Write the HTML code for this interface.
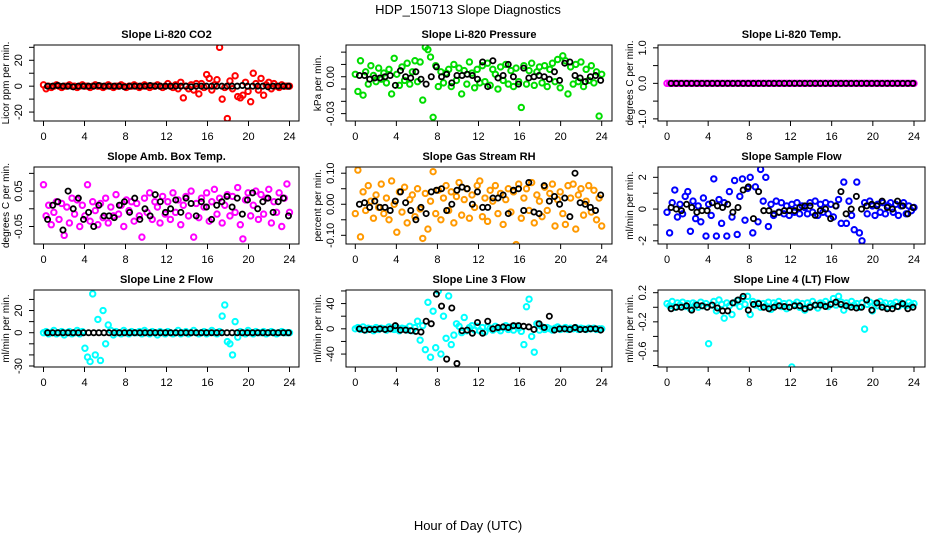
<!DOCTYPE html>
<html><head><meta charset="utf-8">
<style>
body{margin:0;background:#fff;}
svg text{font-family:"Liberation Sans",sans-serif;}
</style></head>
<body>
<svg id="chart" width="936" height="540" viewBox="0 0 936 540" xmlns="http://www.w3.org/2000/svg">
<rect width="936" height="540" fill="#fff"/>
<text x="468" y="14" text-anchor="middle" font-size="13">HDP_150713  Slope Diagnostics</text>
<text x="468" y="530" text-anchor="middle" font-size="13">Hour of Day (UTC)</text>
</svg>
<script>
const xTicks = [0,4,8,12,16,20,24];
const panelTitles = ["Slope Li-820 CO2","Slope Li-820 Pressure","Slope Li-820 Temp.","Slope Amb. Box Temp.","Slope Gas Stream RH","Slope Sample Flow","Slope Line 2 Flow","Slope Line 3 Flow","Slope Line 4 (LT) Flow"];
const yTitles = ["Licor ppm per min.","kPa per min.","degrees C per min.","degrees C per min.","percent per min.","ml/min per min.","ml/min per min.","ml/min per min.","ml/min per min."];
const yTickSets = [[-20,-10,0,10,20,30],[-0.03,-0.02,-0.01,0,0.01,0.02],[-1,-0.5,0,0.5,1],[-0.05,0,0.05,0.1],[-0.1,-0.05,0,0.05,0.1],[-2,-1,0,1,2],[-30,-20,-10,0,10,20,30],[-40,-20,0,20,40,60],[-0.8,-0.6,-0.4,-0.2,0,0.2]];
const yLabelSets = [["-20","0","20"],["-0.03","0.00"],["-1.0","0.0","1.0"],["-0.05","0.05"],["-0.10","0.00","0.10"],["-2","0","2"],["-30","0","20"],["-40","0","40"],["-0.6","-0.2","0.2"]];
const yLabelVals = [[-20,0,20],[-0.03,0],[-1,0,1],[-0.05,0.05],[-0.1,0,0.1],[-2,0,2],[-30,0,20],[-40,0,40],[-0.6,-0.2,0.2]];
const yDomains = [[-26.9,31.8],[-0.036,0.0258],[-1.06,1.08],[-0.0994,0.118],[-0.128,0.12],[-2.2,2.65],[-30.9,38.5],[-60.5,61.5],[-0.82,0.237]];
const seriesColors = ["#ff0000","#00dd00","#ff00ff","#ff00ff","#ff9900","#0000ff","#00ffff","#00ffff","#00ffff"];

const coloredValues = [
[1,-2,0,-1,0,1,0,-1,0,0,1,0, 0,-1,0,1,0,0,-1,0,1,0,0,-1, 0,1,0,-1,0,0,1,0,-1,0,0,1, 0,-1,0,1,0,-1,0,0,1,0,-1,0,
 2,0,-1,1,-2,3,-9,0,-2,1,-3,2, -6,2,-1,9,6,-3,1,5,30,-10,-1,-25, 4,-2,8,-8,-9,-7,3,-4,-12,10,2,-3, 6,-7,1,3,-2,2,0,-1,1,0,0,0],
[0.002,-0.012,0.013,-0.015,0.004,-0.006,0.009,0.001,-0.004,0.007,-0.002,0.003,
 -0.005,0.006,-0.014,0.015,0.002,-0.007,0.008,-0.003,0.011,-0.006,0.004,0.013,
 -0.004,0.012,-0.019,0.024,0.022,0.016,-0.033,0.009,-0.008,0.004,-0.005,0.003,
 0.006,-0.008,0.010,-0.003,0.007,-0.014,0.005,-0.006,0.012,0.003,-0.009,0.006,
 -0.005,0.009,-0.004,0.011,-0.007,0.006,0.002,-0.010,0.008,-0.003,0.010,-0.006,
 0.005,-0.008,0.007,-0.004,-0.025,0.009,-0.006,0.005,0.011,-0.007,0.004,0.008,
 -0.005,0.009,-0.008,0.006,0.011,-0.004,0.014,-0.009,0.017,0.013,-0.014,0.008,
 -0.006,0.010,-0.004,0.012,-0.008,0.006,-0.003,0.009,-0.005,0.004,-0.032,0.002],
[0,0,0,0,0,0,0,0,0,0,0,0, 0,0,0,0,0,0,0,0,0,0,0,0, 0,0,0,0,0,0,0,0,0,0,0,0, 0,0,0,0,0,0,0,0,0,0,0,0,
 0,0,0,0,0,0,0,0,0,0,0,0, 0,0,0,0,0,0,0,0,0,0,0,0, 0,0,0,0,0,0,0,0,0,0,0,0, 0,0,0,0,0,0,0,0,0,0,0,0],
[0.068,-0.02,0.01,-0.045,-0.01,0.02,-0.03,0.015,-0.075,0.005,-0.04,0.03,
 -0.015,0.025,-0.05,0.01,-0.02,0.068,-0.035,0.02,-0.005,-0.045,0.015,-0.025,
 0.03,-0.04,0.005,-0.02,0.04,-0.015,0.01,-0.05,0.025,-0.005,0.02,-0.035,
 0.015,-0.02,-0.08,0.03,-0.01,0.045,-0.03,0.02,0.005,-0.04,0.035,-0.015,
 0.02,-0.03,0.045,-0.01,0.025,-0.045,0.01,0.035,-0.02,0.05,-0.08,0.015,
 -0.025,0.03,0.005,0.045,-0.035,0.02,0.055,-0.015,0.03,-0.04,0.01,0.04,
 -0.02,0.035,-0.01,0.06,-0.045,-0.085,0.025,0.045,-0.02,0.01,0.05,-0.03,
 0.04,-0.015,0.03,0.055,-0.04,0.02,-0.01,0.045,-0.05,0.03,0.07,-0.01],
[-0.03,0.11,-0.105,0.04,-0.02,0.06,0.01,-0.045,0.03,-0.01,0.065,-0.03,
 0.02,-0.05,0.075,0.0,-0.09,0.04,-0.025,0.055,-0.06,0.015,0.03,-0.04,
 0.05,-0.015,-0.11,0.035,-0.08,0.01,0.105,-0.03,0.045,-0.05,0.02,0.06,
 -0.02,0.04,-0.06,0.025,0.07,-0.035,0.015,0.05,-0.045,0.03,-0.01,0.06,
 0.075,-0.04,0.02,-0.055,0.045,0.01,0.06,-0.03,0.035,-0.065,0.015,0.05,
 -0.025,0.04,-0.13,0.065,-0.045,0.02,0.05,-0.02,0.07,-0.06,0.03,0.01,
 -0.04,0.055,-0.02,0.035,0.065,-0.07,0.015,0.04,-0.03,-0.065,0.06,0.02,
 0.065,-0.08,0.03,0.05,-0.035,0.01,0.06,-0.025,0.045,-0.05,0.02,-0.07],
[-0.2,-1.5,0.4,1.2,-0.5,0.3,-0.3,0.8,1.1,-1.4,0.5,-0.6,
 0.2,-0.8,0.7,-1.7,0.3,-0.4,1.9,-1.7,0.6,-0.9,0.4,-1.7,
 1.1,-0.5,1.8,-1.6,0.8,1.9,-0.7,1.3,2.0,-1.5,1.4,-0.8,
 2.5,0.5,2.0,-1.1,0.3,-0.4,0.5,-0.2,0.4,-0.3,0.2,-0.4,
 0.3,-0.2,0.4,-0.3,0.2,0.1,-0.3,0.4,-0.2,0.5,-0.4,0.3,
 -0.2,0.4,-0.3,0.3,-0.5,0.2,0.6,-0.9,1.7,-0.9,0.5,-0.4,
 -1.3,1.7,-1.5,-2.0,0.4,-0.3,0.5,0.2,-0.4,0.3,-0.2,0.4,
 -0.3,0.2,0.4,-0.2,0.3,-0.4,0.2,0.4,-0.3,0.2,-0.1,0.1],
[0,1,-1,0,2,-1,0,1,-2,0,1,-1, 0,2,-1,1,-14,-22,-26,35,-20,12,-25,20, -10,7,2,-2,1,0,-1,2,0,-1,1,0, 0,1,-1,2,0,-1,1,0,-2,1,0,-1,
 1,0,-1,0,2,-1,0,1,-1,0,2,0, -1,0,1,-1,0,2,0,-1,1,15,25,-8, -10,-20,10,-4,1,0,-1,2,0,-1,1,0, 0,1,-1,0,1,0,-1,0,1,0,0,0],
[0,2,-1,3,-2,1,0,-3,2,-1,1,0, -2,3,0,-1,2,-3,1,0,-2,4,-3,2, 12,-18,5,-33,42,-45,28,-30,60,-40,20,-15, 52,-25,-10,8,4,-6,18,-3,2,5,-2,4,
 -3,2,-5,3,1,-2,4,0,-3,2,5,-1, 3,-2,4,1,-4,-25,35,47,-12,-37,8,-2, 3,-1,2,0,-2,1,3,-1,0,2,-1,1, 0,2,-1,1,0,-1,1,0,1,-1,0,0],
[0.05,0.02,0.08,0.0,0.06,0.03,0.07,0.01,0.05,-0.02,0.06,0.04,
 0.0,0.07,0.02,0.05,-0.5,0.03,0.08,-0.05,0.10,0.04,-0.15,0.06,
 0.02,-0.1,0.06,0.09,0.01,0.12,0.04,0.15,-0.1,0.08,0.03,0.06,
 0.0,0.05,0.02,0.07,-0.03,0.06,0.03,0.08,0.01,0.05,-0.02,0.06,
 -0.82,0.04,0.07,0.0,0.05,-0.04,0.06,0.02,0.08,0.03,-0.01,0.06,
 0.04,0.08,0.01,0.05,0.12,0.03,0.15,0.07,-0.04,0.06,0.02,0.08,
 0.03,0.05,0.0,0.06,-0.3,0.04,0.07,-0.05,0.05,0.02,0.08,0.03,
 0.06,0.0,0.05,0.03,0.07,0.01,0.06,0.04,0.02,0.07,0.03,0.05]
];

const blackValues = [
[0,0,0.5,0,0,-0.5,0,0,0,0,0.5,0, 0,0,0,-0.5,0,0,0,0,0.5,0,0,0, 0,0,0,0,-0.5,0,0,0,0,0,0,0, 0,0,0.5,0,0,0,0,-0.5,0,0,0,0],
[0.001,0.001,-0.002,-0.001,-0.001,0.000,0.001,-0.007,0.005,0.000,-0.001,0.004,
 -0.002,-0.006,0.000,0.008,0.000,0.002,-0.005,0.001,0.001,0.002,0.001,-0.002,
 0.012,-0.008,0.013,-0.001,0.001,0.010,0.000,-0.006,0.007,-0.001,0.000,0.001,
 0.000,-0.002,0.004,-0.003,0.011,0.012,0.001,-0.001,-0.004,0.000,0.001,-0.003],
[0,0,0,0,0,0,0,0,0,0,0,0, 0,0,0,0,0,0,0,0,0,0,0,0, 0,0,0,0,0,0,0,0,0,0,0,0, 0,0,0,0,0,0,0,0,0,0,0,0],
[-0.03,0.01,0.02,-0.06,0.05,0.0,0.03,-0.03,-0.01,-0.05,0.01,-0.02,
 -0.02,-0.025,0.01,0.02,-0.01,0.03,-0.03,0.0,-0.02,0.04,0.02,-0.01,
 0.0,0.025,-0.01,0.03,0.015,-0.02,0.02,0.005,-0.03,0.01,0.02,0.035,
 0.005,0.03,-0.015,0.025,0.045,0.0,0.02,0.03,-0.01,0.02,0.03,-0.02],
[0.0,0.005,-0.01,0.01,-0.01,-0.01,-0.02,0.01,0.04,0.005,-0.02,-0.05,
 -0.01,-0.03,0.04,0.045,0.05,-0.02,0.0,0.045,0.055,0.05,0.0,0.04,
 -0.01,-0.01,0.02,0.02,0.03,-0.03,0.045,0.05,-0.02,0.07,-0.025,-0.03,
 0.06,0.01,0.025,0.0,0.02,-0.04,0.1,0.005,0.0,-0.01,-0.02,0.03],
[0.1,0.0,-0.1,0.3,0.1,-0.2,-0.1,-0.1,0.4,0.2,0.1,0.3,
 -0.2,0.1,1.2,1.4,-0.6,1.1,-0.1,-0.1,-0.3,-0.2,-0.1,-0.1,
 -0.1,0.1,0.2,0.2,-0.4,-0.1,0.0,-0.6,0.2,1.1,-0.3,0.0,
 0.8,0.0,0.2,0.3,0.2,0.5,0.1,0.0,0.5,0.2,-0.3,0.1],
[0,0,0,0,0,0,0,0,0,0,0,0, 0,0,0,0,0,0,0,0,0,0,0,0, 0,0,0,0,0,0,0,0,0,0,0,0, 0,0,0,0,0,0,0,0,0,0,0,0],
[0,-2,-1,-1,0,-1,0,5,-2,-2,-3,-4,
 -5,12,8,55,36,-48,33,-55,-3,-2,-7,10,
 -7,12,0,2,3,2,5,5,4,3,-1,8,
 2,20,-2,0,0,-1,2,-1,-1,0,0,-2],
[-0.02,0.0,0.0,0.02,-0.04,0.03,0.02,0.0,0.03,-0.01,-0.05,-0.05,
 0.06,0.1,0.15,-0.04,0.04,0.05,0.0,-0.02,0.0,0.02,0.01,0.0,
 0.02,0.02,-0.02,0.0,0.03,0.03,0.01,0.04,0.07,0.04,0.02,0.0,
 -0.01,0.0,0.1,-0.04,0.06,0.0,-0.02,-0.02,0.01,0.05,-0.02,0.0]
];

const NS = "http://www.w3.org/2000/svg";
const svg = document.getElementById("chart");
const cols = [{l:34,r:299,a:43.5,b:289.5},{l:346,r:612,a:355.3,b:601.7},{l:658,r:925,a:667,b:914}];
const rows = [{t:45,b:121},{t:167,b:244},{t:290,b:367}];
function mk(tag, attrs, parent){const e=document.createElementNS(NS,tag);for(const k in attrs)e.setAttribute(k,attrs[k]);(parent||svg).appendChild(e);return e;}

for (let p=0;p<9;p++){
  const c = cols[p%3], r = rows[Math.floor(p/3)];
  const dom = yDomains[p];
  const xs = h => c.a + (c.b-c.a)*h/24;
  const ys = v => r.b - (v-dom[0])/(dom[1]-dom[0])*(r.b-r.t);
  const g = mk("g",{});
  
  
  const clip = mk("clipPath",{id:"clip"+p},g);
  mk("rect",{x:c.l,y:r.t,width:c.r-c.l,height:r.b-r.t},clip);
  const t = mk("text",{x:(c.l+c.r)/2,y:r.t-7,"text-anchor":"middle","font-size":"11","font-weight":"bold"},g);
  t.textContent = panelTitles[p];
  
  
  const pts = mk("g",{"clip-path":"url(#clip"+p+")"},g);
  
  
  const cv = coloredValues[p], n = cv.length;
  for (let i=0;i<n;i++){
    const h = 24*i/(n-1);
    const circ = mk("circle",{cx:xs(h),cy:ys(cv[i]),r:2.7,fill:"none",stroke:seriesColors[p],"stroke-width":2},pts);
    
    
  }
  const bv = blackValues[p];
  for (let i=0;i<bv.length;i++){
    const h = 0.5*(i+1) - 0.1;
    const circ = mk("circle",{cx:xs(h),cy:ys(bv[i]),r:2.6,fill:"none",stroke:"#000","stroke-width":1.8},pts);
    
    
  }
  const box = mk("rect",{x:c.l,y:r.t,width:c.r-c.l,height:r.b-r.t,fill:"none",stroke:"#000","stroke-width":1},g);
  
  
  mk("line",{x1:xs(xTicks[0]),x2:xs(xTicks[xTicks.length-1]),y1:r.b,y2:r.b,stroke:"#000"},g);
  xTicks.forEach(v=>{
    mk("line",{x1:xs(v),x2:xs(v),y1:r.b,y2:r.b+5,stroke:"#000"},g);
    const tl = mk("text",{x:xs(v),y:r.b+19,"text-anchor":"middle","font-size":"11"},g);
    tl.textContent = v;
    
    
  });
  yTickSets[p].forEach(v=>{ mk("line",{x1:c.l-5,x2:c.l,y1:ys(v),y2:ys(v),stroke:"#000"},g); });
  yLabelVals[p].forEach((v,i)=>{
    const yy = ys(v), xx = c.l-12;
    const tl = mk("text",{x:xx,y:yy,"text-anchor":"middle","font-size":"11",transform:"rotate(-90 "+xx+" "+yy+")"},g);
    tl.textContent = yLabelSets[p][i];
    
    
  });
  const ym = (r.t+r.b)/2, yx = c.l-25;
  const yl = mk("text",{x:yx,y:ym,"text-anchor":"middle","font-size":"10",transform:"rotate(-90 "+yx+" "+ym+")"},g);
  yl.textContent = yTitles[p];
  
  
}
</script>
</body></html>
